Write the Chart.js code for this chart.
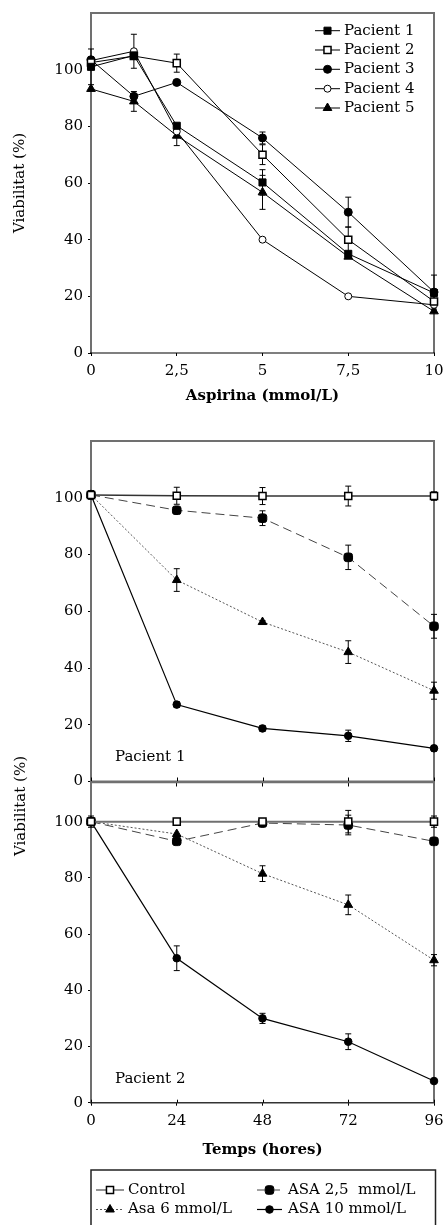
<!DOCTYPE html>
<html>
<head>
<meta charset="utf-8">
<script src="https://cdn.jsdelivr.net/npm/chart.js@4.4.0/dist/chart.umd.min.js"></script>
<style>
  body { margin: 0; background: #fff; }
  #wrap { position: relative; width: 443px; height: 1225px; overflow: hidden; }
  #wrap canvas { position: absolute; left: 0; }
  #ytitle2 { position: absolute; left: 20px; top: 806px; font: 15px 'DejaVu Serif', serif; white-space: nowrap;
             transform: translate(-50%, -50%) rotate(-90deg); }
</style>
</head>
<body>
<div id="wrap">
  <canvas id="dose" width="443" height="420" style="top:0"></canvas>
  <canvas id="pac1" width="443" height="368" style="top:420px"></canvas>
  <canvas id="pac2" width="443" height="455" style="top:770px"></canvas>
  <div id="ytitle2">Viabilitat (%)</div>
</div>
<script>
// top panel: viability vs aspirin dose, one line per patient
const doseX = [0, 1.25, 2.5, 5, 7.5, 10];
const doseTicks = [0, 2.5, 5, 7.5, 10];
const patients = ['Pacient 1', 'Pacient 2', 'Pacient 3', 'Pacient 4', 'Pacient 5'];
const pac1Dose = [101, 105, 80.2, 60.2, 35, 21.2];
const pac2Dose = [102.5, 104.8, 102.3, 70, 40, 18.2];
const pac3Dose = [103.5, 90.6, 95.5, 75.9, 49.7, 21.5];
const pac4Dose = [103.2, 106.5, 78.2, 40, 20, 17];
const pac5Dose = [93.2, 88.8, 76.7, 56.7, 34, 14.7];
const pac1DoseErr = [6.3, 0, 0, 4.5, 0, 0];
const pac2DoseErr = [0, 0, 3.2, 3.5, 4.5, 0];
const pac3DoseErr = [0, 0, 0, 2.1, 5.3, 6];
const pac4DoseErr = [0, 6, 0, 0, 0, 0];
const pac5DoseErr = [0, 3.5, 3.5, 6, 0, 0];

// lower panels: viability vs time, per treatment
const hours = [0, 24, 48, 72, 96];
const hourTicks = [0, 24, 48, 72, 96];
const viabTicks = [0, 20, 40, 60, 80, 100];
const treatments = ['Control', 'ASA 2,5  mmol/L', 'Asa 6 mmol/L', 'ASA 10 mmol/L'];

const p1Control = [101, 100.7, 100.6, 100.6, 100.6];
const p1Asa25 = [101, 95.6, 92.8, 79, 54.7];
const p1Asa6 = [101, 71, 56.2, 45.6, 32];
const p1Asa10 = [101, 27.1, 18.7, 16.1, 11.7];
const p1ControlErr = [1.5, 3, 3, 3.5, 1.5];
const p1Asa25Err = [0, 0.5, 2.6, 4.3, 4.2];
const p1Asa6Err = [0, 4, 0.5, 4, 3];
const p1Asa10Err = [0, 1, 1, 2, 1];

const p2Control = [100, 100, 100, 100, 100];
const p2Asa25 = [100, 93, 99.5, 98.8, 93];
const p2Asa6 = [100, 95.6, 81.5, 70.4, 50.7];
const p2Asa10 = [100, 51.4, 30, 21.7, 7.7];
const p2ControlErr = [2, 0, 0, 4, 2];
const p2Asa25Err = [0, 0, 0, 3.5, 0];
const p2Asa6Err = [0, 0, 2.8, 3.5, 2];
const p2Asa10Err = [0, 4.4, 1.8, 2.8, 0];

Chart.defaults.font.family = "'DejaVu Serif', serif";
Chart.defaults.font.size = 15;
Chart.defaults.color = '#000';
Chart.defaults.animation = false;

const FONT = "15px 'DejaVu Serif', serif";

const filledSquare = { pointStyle: 'rect', pointRadius: 5, pointBackgroundColor: '#000' };
const openSquare = { pointStyle: 'rect', pointRadius: 5, pointBackgroundColor: '#fff', pointBorderWidth: 1.5 };
const filledCircle = { pointStyle: 'circle', pointRadius: 4, pointBackgroundColor: '#000' };
const openCircle = { pointStyle: 'circle', pointRadius: 3.5, pointBackgroundColor: '#fff' };
const triangle = { pointStyle: 'triangle', pointRadius: 5, pointBackgroundColor: '#000' };

function series(xs, ys) {
  return xs.map((x, i) => ({ x: x, y: ys[i] }));
}

function lineSet(label, xs, ys, errs, style) {
  return Object.assign({
    label: label,
    data: series(xs, ys),
    errors: errs,
    borderColor: '#000',
    borderWidth: 1,
    tension: 0,
    clip: false,
    pointBorderColor: '#000',
    pointBorderWidth: 1
  }, style);
}

function drawErrors(chart) {
  const ctx = chart.ctx, xs = chart.scales.x, ys = chart.scales.y;
  ctx.save();
  ctx.strokeStyle = '#000';
  ctx.lineWidth = 1;
  chart.data.datasets.forEach(ds => {
    (ds.errors || []).forEach((e, i) => {
      if (!e) return;
      const p = ds.data[i];
      const x = xs.getPixelForValue(p.x);
      const y1 = ys.getPixelForValue(p.y + e);
      const y2 = ys.getPixelForValue(p.y - e);
      ctx.beginPath();
      ctx.moveTo(x, y1); ctx.lineTo(x, y2);
      ctx.moveTo(x - 3, y1); ctx.lineTo(x + 3, y1);
      ctx.moveTo(x - 3, y2); ctx.lineTo(x + 3, y2);
      ctx.stroke();
    });
  });
  ctx.restore();
}

function drawSample(ctx, ds, x0, x1, y) {
  ctx.save();
  ctx.strokeStyle = ds.borderColor;
  ctx.lineWidth = Math.min(ds.borderWidth, 1.5);
  ctx.setLineDash(ds.borderDash || []);
  ctx.beginPath(); ctx.moveTo(x0, y); ctx.lineTo(x1, y); ctx.stroke();
  ctx.setLineDash([]);
  ctx.fillStyle = ds.pointBackgroundColor;
  ctx.strokeStyle = ds.pointBorderColor;
  ctx.lineWidth = ds.pointBorderWidth;
  Chart.helpers.drawPoint(ctx, { pointStyle: ds.pointStyle, radius: ds.pointRadius, borderWidth: ds.pointBorderWidth, rotation: 0 }, (x0 + x1) / 2, y);
  ctx.restore();
}

const framePlugin = {
  id: 'frame',
  beforeDatasetsDraw(chart, args, o) {
    const ctx = chart.ctx, a = chart.chartArea;
    ctx.save();
    ctx.strokeStyle = '#707070';
    ctx.lineWidth = 2;
    ctx.beginPath();
    ctx.moveTo(a.left, a.bottom); ctx.lineTo(a.left, a.top);
    ctx.lineTo(a.right, a.top); ctx.lineTo(a.right, a.bottom);
    ctx.stroke();
    ctx.strokeStyle = o.bottomColor;
    ctx.lineWidth = o.bottomWidth;
    ctx.beginPath(); ctx.moveTo(a.left - 1, a.bottom); ctx.lineTo(a.right + 1, a.bottom); ctx.stroke();
    if (o.upTicks) {
      ctx.strokeStyle = '#000';
      ctx.lineWidth = 1;
      chart.scales.x.ticks.forEach(t => {
        const x = Math.round(chart.scales.x.getPixelForValue(t.value)) + 0.5;
        ctx.beginPath(); ctx.moveTo(x, a.bottom); ctx.lineTo(x, a.bottom - o.upTicks); ctx.stroke();
      });
    }
    ctx.restore();
    drawErrors(chart);
  },
  afterDraw(chart, args, o) {
    const ctx = chart.ctx, a = chart.chartArea;
    ctx.save();
    ctx.font = FONT;
    ctx.fillStyle = '#000';
    ctx.textBaseline = 'middle';
    ctx.textAlign = 'left';
    if (o.note) ctx.fillText(o.note, a.left + 24, a.bottom - o.noteOffset);
    const lg = o.legend;
    if (lg) {
      if (lg.box) {
        ctx.strokeStyle = '#222';
        ctx.lineWidth = 1.5;
        ctx.strokeRect(lg.box[0], lg.box[1], lg.box[2], lg.box[3]);
      }
      chart.data.datasets.forEach((ds, i) => {
        const c = lg.cols[i % lg.cols.length];
        const y = lg.rows[Math.floor(i / lg.cols.length)];
        drawSample(ctx, ds, c[0], c[1], y);
        ctx.fillStyle = '#000';
        ctx.fillText(ds.label, c[2], y);
      });
    }
    ctx.restore();
  }
};

function yScale(max, title) {
  return {
    min: 0, max: max,
    afterBuildTicks: s => { s.ticks = viabTicks.map(v => ({ value: v })); },
    afterFit: s => { s.width = 91; s.paddingTop = 0; s.paddingBottom = 0; },
    border: { display: false },
    grid: { drawOnChartArea: false, tickLength: 3, color: '#000' },
    ticks: { padding: 5 },
    title: { display: !!title, text: title || '', padding: { top: 11, bottom: 0 } }
  };
}

function xScale(max, ticks, height, opts) {
  return Object.assign({
    type: 'linear', min: 0, max: max,
    afterBuildTicks: s => { s.ticks = ticks.map(v => ({ value: v })); },
    afterFit: s => { s.height = height; s.paddingLeft = 0; s.paddingRight = 0; },
    border: { display: false },
    grid: { drawOnChartArea: false, tickLength: 3, color: '#000' },
    ticks: { padding: 6 }
  }, opts);
}

// top panel
new Chart(document.getElementById('dose'), {
  type: 'line',
  data: {
    datasets: [
      lineSet(patients[0], doseX, pac1Dose, pac1DoseErr, filledSquare),
      lineSet(patients[1], doseX, pac2Dose, pac2DoseErr, openSquare),
      lineSet(patients[2], doseX, pac3Dose, pac3DoseErr, filledCircle),
      lineSet(patients[3], doseX, pac4Dose, pac4DoseErr, openCircle),
      lineSet(patients[4], doseX, pac5Dose, pac5DoseErr, triangle)
    ]
  },
  plugins: [framePlugin],
  options: {
    responsive: false,
    devicePixelRatio: 1,
    events: [],
    layout: { padding: { top: 13, right: 9, left: 0, bottom: 0 } },
    scales: {
      x: xScale(10, doseTicks, 67, {
        ticks: { padding: 6, callback: v => String(v).replace('.', ',') },
        title: { display: true, text: 'Aspirina (mmol/L)', font: { weight: 'bold' }, padding: { top: 0, bottom: 15 } }
      }),
      y: yScale(120, 'Viabilitat (%)')
    },
    plugins: {
      legend: { display: false },
      tooltip: { enabled: false },
      frame: {
        bottomColor: '#000', bottomWidth: 1.2,
        legend: { cols: [[315, 340, 344]], rows: [30.7, 50, 69.3, 88.7, 108] }
      }
    }
  }
});

const controlStyle = Object.assign({}, openSquare, { borderColor: '#333', borderWidth: 1.5 });
const controlStyle2 = Object.assign({}, openSquare, { borderColor: '#707070', borderWidth: 2 });
const asa25Style = { pointStyle: 'rectRounded', pointRadius: 5, pointBackgroundColor: '#000', borderColor: '#444', borderDash: [9, 5] };
const asa6Style = Object.assign({}, triangle, { borderColor: '#555', borderDash: [2, 2] });
const asa10Style = Object.assign({}, filledCircle, { pointRadius: 3.8, borderWidth: 1.2 });

// Pacient 1
new Chart(document.getElementById('pac1'), {
  type: 'line',
  data: {
    datasets: [
      lineSet(treatments[0], hours, p1Control, p1ControlErr, controlStyle),
      lineSet(treatments[1], hours, p1Asa25, p1Asa25Err, asa25Style),
      lineSet(treatments[2], hours, p1Asa6, p1Asa6Err, asa6Style),
      lineSet(treatments[3], hours, p1Asa10, p1Asa10Err, asa10Style)
    ]
  },
  plugins: [framePlugin],
  options: {
    responsive: false,
    devicePixelRatio: 1,
    events: [],
    layout: { padding: { top: 21, right: 9, left: 0, bottom: 0 } },
    scales: {
      x: xScale(96, hourTicks, 6, { ticks: { display: false }, grid: { drawOnChartArea: false, tickLength: 5, color: '#000' } }),
      y: yScale(120)
    },
    plugins: {
      legend: { display: false },
      tooltip: { enabled: false },
      frame: { bottomColor: '#707070', bottomWidth: 2, upTicks: 4, note: 'Pacient 1', noteOffset: 24.7 }
    }
  }
});

// Pacient 2 + shared legend
new Chart(document.getElementById('pac2'), {
  type: 'line',
  data: {
    datasets: [
      lineSet(treatments[0], hours, p2Control, p2ControlErr, controlStyle2),
      lineSet(treatments[1], hours, p2Asa25, p2Asa25Err, asa25Style),
      lineSet(treatments[2], hours, p2Asa6, p2Asa6Err, asa6Style),
      lineSet(treatments[3], hours, p2Asa10, p2Asa10Err, asa10Style)
    ]
  },
  plugins: [framePlugin],
  options: {
    responsive: false,
    devicePixelRatio: 1,
    events: [],
    layout: { padding: { top: 12.3, right: 9, left: 0, bottom: 60 } },
    scales: {
      x: xScale(96, hourTicks, 62.3, {
        title: { display: true, text: 'Temps (hores)', font: { weight: 'bold' }, padding: { top: 0, bottom: 6 } }
      }),
      y: yScale(114)
    },
    plugins: {
      legend: { display: false },
      tooltip: { enabled: false },
      frame: {
        bottomColor: '#333', bottomWidth: 1.5, upTicks: 3, note: 'Pacient 2', noteOffset: 23.4,
        legend: {
          box: [91, 400, 344.5, 70],
          cols: [[96, 124, 128], [257, 282, 288]],
          rows: [420, 439.5]
        }
      }
    }
  }
});
</script>
</body>
</html>
